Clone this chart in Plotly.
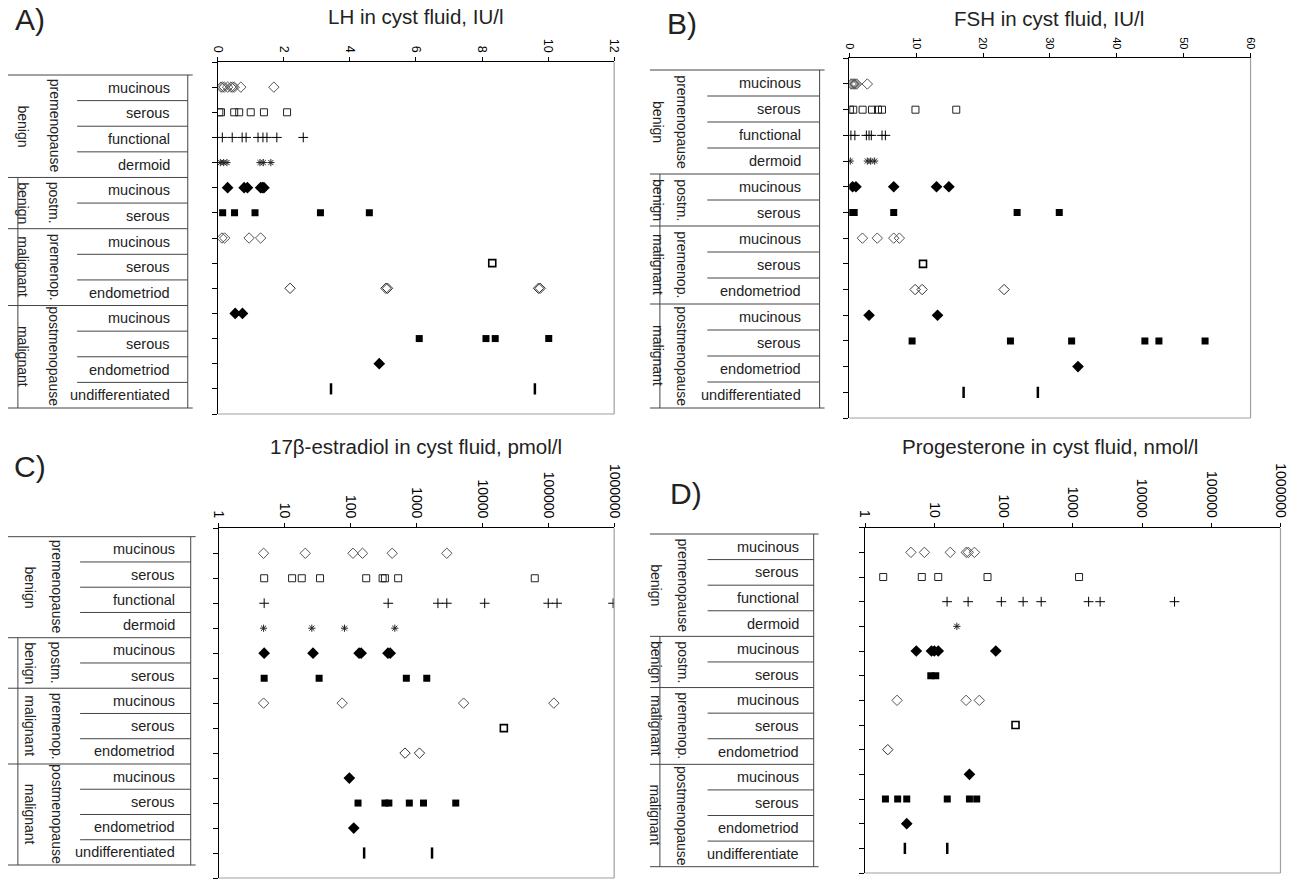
import plotly.graph_objects as go

W, H = 1303, 884
FONT = "Liberation Sans, Arial, sans-serif"

# ---------------- data ----------------
groups = [
    ("benign", "premenopause", ["mucinous", "serous", "functional", "dermoid"]),
    ("benign", "postm.", ["mucinous", "serous"]),
    ("malignant", "premenop.", ["mucinous", "serous", "endometriod"]),
    ("malignant", "postmenopause", ["mucinous", "serous", "endometriod", "undifferentiated"]),
]

lh_values = [
    [0.1, 0.15, 0.2, 0.3, 0.4, 0.45, 0.5, 0.7, 1.7],
    [0.05, 0.1, 0.5, 0.65, 1.0, 1.4, 2.1],
    [0.14, 0.44, 0.74, 0.86, 1.22, 1.37, 1.49, 1.79, 2.59],
    [0.08, 0.18, 0.28, 1.28, 1.38, 1.61],
    [0.3, 0.8, 0.9, 1.3, 1.35, 1.4],
    [0.15, 0.51, 1.13, 3.11, 4.59],
    [0.13, 0.21, 0.95, 1.3],
    [8.31],
    [2.19, 5.09, 5.14, 9.71, 9.76],
    [0.53, 0.75],
    [6.1, 8.12, 8.4, 10.02],
    [4.89],
    [3.43, 9.6],
]

fsh_values = [
    [0.3, 0.5, 0.7, 0.9, 1.1, 2.7],
    [0.1, 0.6, 2.0, 3.4, 4.3, 4.9, 9.9, 16.0],
    [0.25, 0.84, 2.56, 2.96, 3.3, 4.9, 5.4],
    [0.15, 2.7, 3.2, 3.8],
    [0.5, 1.0, 6.65, 13.05, 14.9],
    [0.25, 0.74, 6.65, 25.1, 31.4],
    [1.97, 4.19, 6.65, 7.49],
    [11.03],
    [9.85, 10.9, 23.15],
    [2.96, 13.2],
    [9.4, 24.1, 33.25, 44.2, 46.3, 53.2],
    [34.2],
    [17.1, 28.2],
]

e2_values = [
    [4.8, 20.6, 109, 152, 429, 2890],
    [4.9, 13, 18.2, 34.5, 173, 307, 333, 528, 62400],
    [4.9, 373, 2120, 2890, 10860, 100000, 136000, 964000],
    [4.8, 25.9, 81, 470],
    [4.9, 27, 135, 145, 370, 400],
    [4.9, 33.4, 703, 1435],
    [4.8, 74.7, 5200, 121600],
    [21200],
    [671, 1113],
    [96],
    [130, 333, 382, 780, 1280, 3950],
    [112],
    [161, 1725],
]

prog_values = [
    [4.6, 7.2, 17, 29, 31, 38],
    [1.83, 6.6, 11.4, 58.7, 1233],
    [15.3, 30.8, 93, 192, 350, 1694, 2485, 29500],
    [21.2],
    [5.5, 9.1, 10, 11.4, 77.3],
    [8.9, 10.5],
    [2.9, 28.8, 44.7],
    [149],
    [2.13],
    [32.2],
    [1.97, 2.96, 4.0, 15.4, 32.2, 41],
    [4.0],
    [3.76, 15.4],
]

lin_ticks_lh = [0, 2, 4, 6, 8, 10, 12]
lin_ticks_fsh = [0, 10, 20, 30, 40, 50, 60]
log_ticks = [1, 10, 100, 1000, 10000, 100000, 1000000]

titles = ["LH in cyst fluid, IU/l", "FSH in cyst fluid, IU/l",
          "17\u03b2-estradiol in cyst fluid, pmol/l", "Progesterone in cyst fluid, nmol/l"]
panel_letters = ["A)", "B)", "C)", "D)"]

# ---------------- marker styles per row ----------------
row_styles = [
    dict(symbol="diamond-open", size=8, color="#555555", lw=1),
    dict(symbol="square-open", size=7, color="#222222", lw=1),
    dict(symbol="cross-thin", size=7, color="#000000", lw=1),
    dict(symbol="asterisk-open", size=6, color="#222222", lw=1),
    dict(symbol="diamond", size=9, color="#000000", lw=0),
    dict(symbol="square", size=7, color="#000000", lw=0),
    dict(symbol="diamond-open", size=8, color="#555555", lw=1),
    dict(symbol="square-open", size=7, color="#000000", lw=1.6),
    dict(symbol="diamond-open", size=8, color="#333333", lw=1),
    dict(symbol="diamond", size=9, color="#000000", lw=0),
    dict(symbol="square", size=7, color="#000000", lw=0),
    dict(symbol="diamond", size=9, color="#000000", lw=0),
    dict(symbol="line-ns-open", size=8, color="#000000", lw=2.5),
]

# ---------------- geometry (pixels) ----------------
panels = [
    dict(vals=lh_values, log=False, rng=[0, 12], ticks=lin_ticks_lh, tfs=12.5,
         box=(212.3, 613.7, 62, 414), title_xy=(413, 16), letter_xy=(22, 19),
         table=dict(left=0, top=75, bottom=408, right=182, sub_left=70, c1=15, c2=47, lab_r=166,
                    last="undifferentiated")),
    dict(vals=fsh_values, log=False, rng=[0, 60], ticks=lin_ticks_fsh, tfs=11,
         box=(851.7, 1258, 58.3, 418), title_xy=(1054, 18), letter_xy=(682, 23),
         table=dict(left=650, top=70, bottom=408, right=821.7, sub_left=708, c1=658, c2=682, lab_r=805,
                    last="undifferentiated")),
    dict(vals=e2_values, log=True, rng=[0, 6], ticks=log_ticks, tfs=14,
         box=(213.3, 613.7, 528.3, 878), title_xy=(413, 446), letter_xy=(22, 466),
         table=dict(left=0, top=536.7, bottom=865, right=185, sub_left=73, c1=22, c2=49, lab_r=171,
                    last="undifferentiated")),
    dict(vals=prog_values, log=True, rng=[0, 6], ticks=log_ticks, tfs=14,
         box=(867.7, 1288.3, 527.7, 873), title_xy=(1055, 446), letter_xy=(686, 493),
         table=dict(left=650, top=534, bottom=866.7, right=815.7, sub_left=708.3, c1=656, c2=683, lab_r=803,
                    last="undifferentiate")),
]


def px(x):
    return x / W


def py(y):
    return 1 - y / H


fig = go.Figure()
shapes = []
annotations = []
layout_axes = {}

for i, p in enumerate(panels):
    n = i + 1
    xa = "x" if n == 1 else f"x{n}"
    ya = "y" if n == 1 else f"y{n}"
    for r, vals in enumerate(p["vals"]):
        st = row_styles[r]
        fig.add_trace(go.Scatter(
            x=vals, y=[r + 1] * len(vals), mode="markers", xaxis=xa, yaxis=ya,
            showlegend=False, hoverinfo="x",
            marker=dict(symbol=st["symbol"], size=st["size"], color=st["color"],
                        line=dict(color=st["color"], width=st["lw"])),
        ))
    x0, x1, y0, y1 = p["box"]
    xkey = "xaxis" if n == 1 else f"xaxis{n}"
    ykey = "yaxis" if n == 1 else f"yaxis{n}"
    xa_cfg = dict(domain=[px(x0), px(x1)], anchor=ya, side="top",
                  showline=True, linecolor="black", linewidth=1,
                  ticks="outside", ticklen=4, tickcolor="black",
                  tickangle=90, tickfont=dict(family=FONT, size=p["tfs"], color="black"),
                  showgrid=False, zeroline=False, fixedrange=True,
                  tickvals=p["ticks"], ticktext=[str(t) for t in p["ticks"]])
    if p["log"]:
        xa_cfg.update(type="log", range=p["rng"])
    else:
        xa_cfg.update(range=p["rng"])
    layout_axes[xkey] = xa_cfg
    layout_axes[ykey] = dict(domain=[py(y1), py(y0)], anchor=xa, range=[14, 0],
                             tickvals=list(range(0, 15)), showticklabels=False,
                             ticks="outside", ticklen=5, tickcolor="black",
                             showline=True, linecolor="black", linewidth=1,
                             showgrid=False, zeroline=False, fixedrange=True)
    # right and bottom border (grey)
    shapes.append(dict(type="line", xref="paper", yref="paper", x0=px(x1), x1=px(x1), y0=py(y0), y1=py(y1),
                       line=dict(color="#a0a0a0", width=1.2)))
    shapes.append(dict(type="line", xref="paper", yref="paper", x0=px(x0), x1=px(x1), y0=py(y1), y1=py(y1),
                       line=dict(color="#a0a0a0", width=1.2)))

    # title and letter
    tx, ty = p["title_xy"]
    annotations.append(dict(text=titles[i], x=px(tx), y=py(ty), xref="paper", yref="paper",
                            showarrow=False, font=dict(family=FONT, size=20.5, color="#222"),
                            xanchor="center", yanchor="middle"))
    lx, ly = p["letter_xy"]
    annotations.append(dict(text=panel_letters[i], x=px(lx), y=py(ly), xref="paper", yref="paper",
                            showarrow=False, font=dict(family=FONT, size=30, color="#222"),
                            xanchor="center", yanchor="middle"))

    # table
    t = p["table"]
    rh = (t["bottom"] - t["top"]) / 13.0
    lc = "#444444"
    shapes.append(dict(type="line", xref="paper", yref="paper", x0=px(t["left"]), x1=px(t["right"] + 5),
                       y0=py(t["top"]), y1=py(t["top"]), line=dict(color=lc, width=1)))
    shapes.append(dict(type="line", xref="paper", yref="paper", x0=px(t["left"]), x1=px(t["right"] + 5),
                       y0=py(t["bottom"]), y1=py(t["bottom"]), line=dict(color=lc, width=1)))
    shapes.append(dict(type="line", xref="paper", yref="paper", x0=px(t["right"]), x1=px(t["right"]),
                       y0=py(t["top"]), y1=py(t["bottom"]), line=dict(color=lc, width=1)))
    row = 0
    for gi, (g1, g2, subs) in enumerate(groups):
        gtop = t["top"] + row * rh
        gbot = t["top"] + (row + len(subs)) * rh
        if gi > 0:
            shapes.append(dict(type="line", xref="paper", yref="paper", x0=px(t["left"]), x1=px(t["right"]),
                               y0=py(gtop), y1=py(gtop), line=dict(color=lc, width=1)))
        gmid = (gtop + gbot) / 2
        annotations.append(dict(text=g1, x=px(t["c1"]), y=py(gmid), xref="paper", yref="paper",
                                showarrow=False, textangle=90, xanchor="center", yanchor="middle",
                                font=dict(family=FONT, size=14, color="#222")))
        annotations.append(dict(text=g2, x=px(t["c2"]), y=py(gmid), xref="paper", yref="paper",
                                showarrow=False, textangle=90, xanchor="center", yanchor="middle",
                                font=dict(family=FONT, size=14, color="#222")))
        for si, s in enumerate(subs):
            rtop = t["top"] + (row + si) * rh
            if si > 0:
                shapes.append(dict(type="line", xref="paper", yref="paper", x0=px(t["sub_left"]),
                                   x1=px(t["right"]), y0=py(rtop), y1=py(rtop), line=dict(color=lc, width=1)))
            label = s
            if gi == 3 and si == 3:
                label = t["last"]
            annotations.append(dict(text=label, x=px(t["lab_r"]), y=py(rtop + rh / 2), xref="paper",
                                    yref="paper", showarrow=False, xanchor="right", yanchor="middle",
                                    font=dict(family=FONT, size=14.5, color="#222")))
        row += len(subs)
    # left border from second group down
    g2top = t["top"] + 4 * rh
    shapes.append(dict(type="line", xref="paper", yref="paper", x0=px(t["left"] + 10), x1=px(t["left"] + 10),
                       y0=py(g2top), y1=py(t["bottom"]), line=dict(color=lc, width=1)))

fig.update_layout(
    width=W, height=H, autosize=False,
    margin=dict(l=0, r=0, t=0, b=0, pad=0),
    paper_bgcolor="white", plot_bgcolor="white",
    font=dict(family=FONT, color="#222"),
    shapes=shapes, annotations=annotations,
    **layout_axes,
)

fig.write_html("out.html", config={"displayModeBar": False},
               post_script="document.body.style.margin='0';")
